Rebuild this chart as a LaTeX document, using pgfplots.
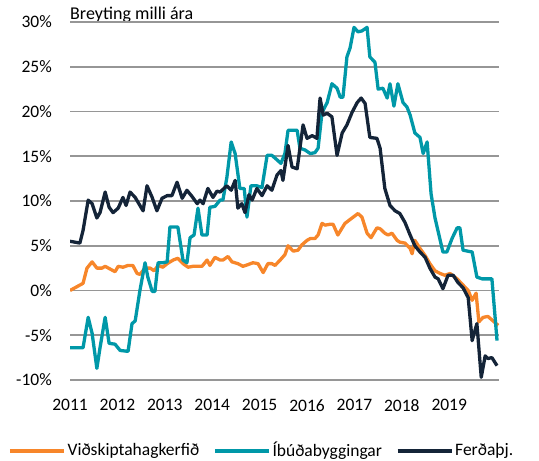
\documentclass[border=0pt]{standalone}
\usepackage{pgfplots}
\pgfplotsset{compat=1.18}
\usepackage{fontspec}
\setmainfont{Carlito}
\definecolor{corange}{RGB}{247,134,42}
\definecolor{cteal}{RGB}{0,152,168}
\definecolor{cnavy}{RGB}{20,36,56}
\definecolor{cgrid}{RGB}{150,150,150}
\begin{document}
\fontsize{17bp}{20bp}\selectfont
\begin{tikzpicture}[x=1bp,y=1bp]
\useasboundingbox (0,0) rectangle (539,461);
\node[anchor=base west, inner sep=0pt, font=\fontsize{18bp}{21bp}\selectfont] at (70,441.5) {Breyting milli ára};
\begin{axis}[
  at={(70bp,81bp)}, anchor=south west,
  scale only axis, width=429bp, height=358bp,
  xmin=0, xmax=108.6, ymin=-10, ymax=30,
  axis line style={draw=none},
  major tick length=0pt,
  xtick={0,12,...,96},
  xticklabels={2011,2012,2013,2014,2015,2016,2017,2018,2019},
  ytick={-10,-5,...,30},
  yticklabels={-10\%,-5\%,0\%,5\%,10\%,15\%,20\%,25\%,30\%},
  ymajorgrids, grid style={cgrid, line width=1.6bp},
  x tick label style={inner sep=0pt, anchor=north, yshift=-19bp},
  y tick label style={inner sep=0pt, anchor=east, xshift=-18bp},
  tick label style={font=\fontsize{17.5bp}{20bp}\selectfont},
  every axis plot/.append style={line width=3.3bp, line join=round, no marks},
  legend style={at={(0.447,-0.198)}, anchor=center, draw=none, fill=none,
    legend columns=3, font=\fontsize{17.5bp}{20bp}\selectfont,
    nodes={inner sep=2bp},
    /tikz/every even column/.append style={column sep=12bp}},
  legend image code/.code={\draw[#1] (0bp,0bp) -- (54bp,0bp);},
]
\addplot[corange] coordinates {
(0,0) (3.3,0.8) (4.3,2.5) (5.6,3.2) (6.8,2.5) (8.1,2.5) (8.9,2.7) (11.4,2.1) (12.2,2.7)
(13.4,2.6) (14.7,2.8) (15.9,2.8) (17.0,1.9) (17.7,1.8) (19.0,2.5) (20.3,2.5) (21.3,2.2)
(22.3,2.8) (23.5,2.6) (24.6,3.0) (26.1,3.4) (27.3,3.6) (28.6,3.0) (29.9,2.6) (31.1,2.7)
(33.4,2.7) (34.7,3.4) (35.4,2.8) (36.7,3.7) (38.0,3.4) (38.7,3.4) (40.0,3.8) (41.0,3.2)
(42.5,3.0) (43.8,2.7) (45.1,2.9) (46.3,3.1) (47.6,3.0) (48.9,2.0) (50.1,3.0) (51.1,3.0)
(51.9,2.8) (53.2,3.4) (54.4,4.0) (55.2,5.0) (56.5,4.4) (57.7,4.5) (58.7,5.1) (60.0,5.6)
(60.8,5.8) (62.0,5.8) (62.8,6.2) (63.8,7.5) (64.6,7.3) (65.8,7.4) (66.6,7.4) (67.8,6.2)
(69.6,7.5) (71.4,8.1) (72.9,8.6) (73.9,8.2) (75.2,6.4) (76.2,5.9) (77.7,7.0) (78.5,6.9)
(79.7,6.4) (80.5,6.2) (81.5,6.4) (82.8,5.6) (83.5,5.4) (84.8,5.3) (86.1,4.7) (86.6,4.1)
(87.3,5.6) (88.6,4.7) (89.9,3.9) (91.1,3.0) (92.4,2.2) (93.7,1.9) (94.9,1.7) (96.2,1.9)
(98.0,1.3) (99.5,0.6) (100.8,0) (101.8,-1.1) (102.8,-0.3) (103.5,-3.5) (104.6,-3.0)
(105.8,-2.9) (107.1,-3.4) (108.4,-3.9)
};
\addlegendentry{Viðskiptahagkerfið}
\addplot[cteal] coordinates {
(0,-6.4) (3.3,-6.4) (4.6,-3.0) (5.6,-4.8) (6.8,-8.7) (7.6,-6.4) (8.9,-3.0) (9.9,-5.9)
(11.4,-6.0) (12.7,-6.7) (14.7,-6.8) (15.7,-3.7) (16.5,-3.4) (17.7,0) (19.0,3.1) (19.7,1.5)
(20.8,-0.1) (21.5,-0.1) (22.3,3.1) (23.5,3.1) (24.6,3.2) (25.3,7.1) (26.6,7.1) (27.3,7.1)
(28.6,3.4) (29.6,3.1) (30.4,5.9) (31.4,6.2) (32.4,9.2) (33.4,6.2) (34.7,6.2) (35.4,9.3)
(36.7,9.4) (38.0,10.1) (38.7,10.1) (39.7,12.6) (40.8,16.6) (41.8,15.3) (43.0,11.4)
(44.1,11.4) (44.8,8.2) (45.8,11.7) (47.3,11.7) (48.6,11.5) (49.9,15.1) (51.1,15.1)
(52.4,14.6) (53.4,14.2) (54.4,15.3) (55.2,17.9) (57.5,17.9) (58.2,15.9) (59.5,15.7)
(60.8,15.3) (62.0,15.4) (62.8,15.9) (63.8,19.9) (65.1,21.0) (66.3,23.1) (67.6,22.6)
(68.4,21.6) (69.1,21.6) (70.1,26.1) (70.9,27.1) (71.9,29.4) (72.9,28.9) (73.9,29.0)
(75.2,29.4) (75.9,26.1) (77.2,25.5) (78.0,22.5) (79.2,22.6) (80.3,21.5) (81.0,23.1)
(82.0,20.6) (83.0,23.1) (84.3,21.0) (85.3,20.5) (86.1,19.6) (87.3,17.6) (88.6,17.1)
(89.4,15.3) (90.4,16.6) (91.4,10.8) (92.4,8.1) (94.4,4.3) (95.4,4.3) (96.7,5.8)
(98.0,7.0) (98.7,7.0) (99.5,4.5) (101.8,4.3) (103.0,1.5) (104.3,1.3) (105.8,1.3)
(106.8,1.3) (108.1,-5.6)
};
\addlegendentry{Íbúðabyggingar}
\addplot[cnavy] coordinates {
(0,5.5) (2.5,5.3) (3.3,6.7) (4.6,10.1) (5.6,9.7) (6.8,8.1) (7.6,8.7) (8.9,11.0) (9.9,9.3)
(10.9,8.7) (12.2,9.2) (13.4,10.4) (14.2,9.5) (15.2,11.0) (16.5,10.4) (17.7,9.5) (18.5,8.9)
(19.5,11.7) (20.8,10.4) (22.0,8.9) (23.3,10.3) (24.6,10.6) (25.8,10.6) (27.1,12.1)
(28.4,10.3) (29.6,11.2) (30.9,10.5) (32.2,9.7) (32.9,10.1) (33.7,9.7) (34.9,11.4)
(36.2,10.4) (37.2,11.1) (38.0,11.0) (39.7,11.7) (40.8,11.2) (41.8,12.3) (42.5,9.2)
(43.5,9.7) (44.3,8.7) (45.3,10.7) (46.1,10.1) (47.3,11.4) (48.6,10.6) (49.9,11.7)
(51.1,11.2) (52.4,12.9) (53.4,13.4) (53.9,12.3) (55.2,16.2) (56.2,13.8) (57.5,13.6)
(59.0,18.5) (60.0,17.0) (61.3,17.3) (62.5,17.0) (63.3,21.5) (64.1,19.6) (65.1,19.8)
(66.3,19.4) (67.6,15.1) (68.9,17.6) (70.1,18.5) (71.4,19.9) (72.7,21.0) (73.7,21.5)
(74.7,20.9) (75.9,17.1) (77.7,17.0) (78.5,15.9) (79.7,11.4) (81.0,9.5) (82.3,8.9)
(83.5,8.6) (84.8,7.6) (86.1,6.2) (87.3,5.0) (88.6,4.3) (89.9,3.7) (91.1,2.5) (92.4,1.5)
(93.2,1.3) (94.4,0.2) (95.7,1.7) (97.0,1.7) (98.2,0.9) (99.5,0.3) (100.8,-0.8)
(101.8,-5.6) (103.0,-3.7) (104.1,-9.7) (105.1,-7.3) (105.8,-7.6) (106.8,-7.5) (108.1,-8.4)
};
\addlegendentry{Ferðaþj.}
\end{axis}
\end{tikzpicture}
\end{document}
